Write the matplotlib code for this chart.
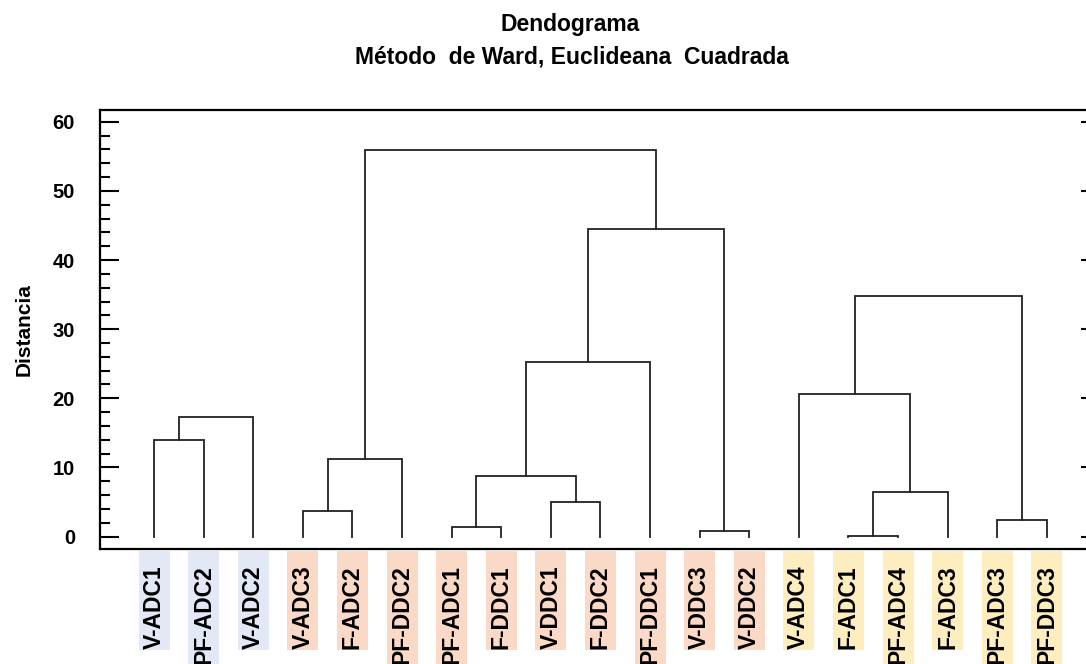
import numpy as np
import matplotlib.pyplot as plt
from matplotlib.ticker import MultipleLocator
from matplotlib.patches import Rectangle
from matplotlib.transforms import IdentityTransform

plt.rcParams['font.family'] = ['Liberation Sans', 'DejaVu Sans']
plt.rcParams['font.weight'] = 'bold'

# leaves in dendrogram order
labels = ['V-ADC1', 'PF-ADC2', 'V-ADC2', 'V-ADC3', 'F-ADC2', 'PF-DDC2',
          'PF-ADC1', 'F-DDC1', 'V-DDC1', 'F-DDC2', 'PF-DDC1', 'V-DDC3',
          'V-DDC2', 'V-ADC4', 'F-ADC1', 'PF-ADC4', 'F-ADC3', 'PF-ADC3', 'PF-DDC3']
groups = [0, 0, 0, 1, 1, 1, 1, 1, 1, 1, 1, 1, 1, 2, 2, 2, 2, 2, 2]
group_colors = ['#e2e8f5', '#fad9c6', '#fdedbf']

# merges: (left cluster, right cluster, distance); new clusters numbered from 19
merge_left = [0, 19, 3, 21, 6, 8, 23, 25, 11, 26, 22, 14, 30, 13, 17, 32]
merge_right = [1, 2, 4, 5, 7, 9, 24, 10, 12, 27, 28, 15, 16, 31, 18, 33]
merge_dist = [14.0, 17.3, 3.7, 11.2, 1.45, 5.0, 8.7, 25.2, 0.8, 44.5, 55.9,
              0.15, 6.4, 20.6, 2.45, 34.8]

n = len(labels)
xpos = {i: float(i) for i in range(n)}
ypos = {i: 0.0 for i in range(n)}

fig = plt.figure(figsize=(10.86, 6.64), dpi=100)
ax = fig.add_axes([100 / 1086, 115 / 664, 988 / 1086, 439 / 664])

for k, (a, b, h) in enumerate(zip(merge_left, merge_right, merge_dist)):
    ax.plot([xpos[a], xpos[a], xpos[b], xpos[b]], [ypos[a], h, h, ypos[b]],
            color='#222222', lw=1.3, solid_joinstyle='miter')
    xpos[n + k] = (xpos[a] + xpos[b]) / 2
    ypos[n + k] = h

ax.set_xlim(-1.09, 18.83)
ax.set_ylim(-1.8, 61.7)
ax.set_xticks([])
ax.yaxis.set_major_locator(MultipleLocator(10))
ax.yaxis.set_minor_locator(MultipleLocator(2))
ax.tick_params(axis='y', which='major', direction='in', length=13.5, width=1.5,
               labelsize=14.5, pad=18)
ax.tick_params(axis='y', which='minor', direction='in', length=7, width=1.5)
for s in ax.spines.values():
    s.set_linewidth(1.6)

# short major ticks on the right side
ax2 = ax.secondary_yaxis('right')
ax2.yaxis.set_major_locator(MultipleLocator(10))
ax2.tick_params(direction='in', length=5, width=1.5, labelright=False)
ax2.yaxis.set_minor_locator(plt.NullLocator())

ax.set_ylabel('Distancia', fontsize=15, fontweight='bold', labelpad=14)

texts = []
for i, lab in enumerate(labels):
    t = ax.text(i, -0.037, lab, transform=ax.get_xaxis_transform(), rotation=90,
                ha='center', va='top', fontsize=16.5, fontweight='bold')
    texts.append(t)

fig.text(570 / 1086, 1 - 25 / 664, 'Dendograma', ha='center', va='center',
         fontsize=16.5, fontweight='bold')
fig.text(572 / 1086, 1 - 57 / 664, 'Método  de Ward, Euclideana  Cuadrada',
         ha='center', va='center', fontsize=16.5, fontweight='bold')

# coloured strips behind the leaf labels, from just under the axis to the label end
fig.canvas.draw()
ax_bottom = ax.get_window_extent().y0
for t, g in zip(texts, groups):
    bb = t.get_window_extent()
    rect = Rectangle((bb.x0 - 4, bb.y0 - 1), bb.width + 8, ax_bottom - 2 - (bb.y0 - 1),
                     transform=IdentityTransform(), facecolor=group_colors[g],
                     edgecolor='none', zorder=-1)
    fig.add_artist(rect)

fig.savefig('out.png', dpi=100)
